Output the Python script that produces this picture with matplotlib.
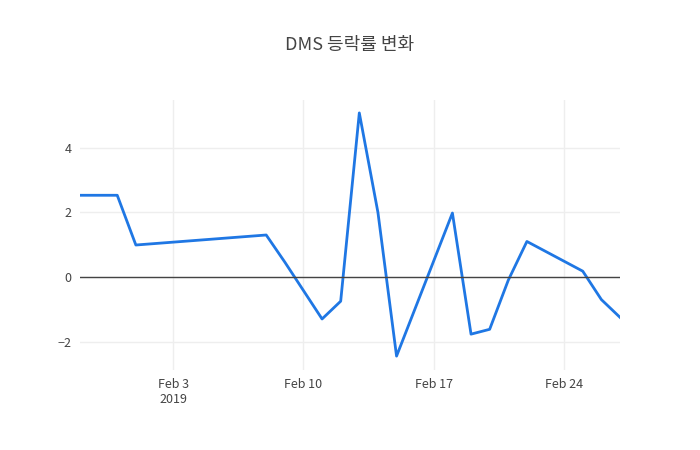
import matplotlib
matplotlib.use("Agg")
import matplotlib.pyplot as plt
import matplotlib.dates as mdates
import pandas as pd

dates = ["2019-01-29","2019-01-31","2019-02-01","2019-02-08","2019-02-09","2019-02-11",
         "2019-02-12","2019-02-13","2019-02-14","2019-02-15","2019-02-18","2019-02-19",
         "2019-02-20","2019-02-21","2019-02-22","2019-02-25","2019-02-26","2019-02-27"]
values = [2.53,2.53,0.99,1.3,0.46,-1.3,-0.75,5.08,2.0,-2.45,1.98,-1.77,-1.62,-0.1,1.1,0.18,-0.7,-1.25]
x = pd.to_datetime(dates)

plt.rcParams['font.family'] = ['Noto Sans CJK KR', 'DejaVu Sans']
fig = plt.figure(figsize=(7, 4.5), dpi=100)
ax = fig.add_axes([80/700, 1-370/450, 540/700, 270/450])
ax.plot(x, values, color='#1f77e4', lw=2)
ax.axhline(0, color='#444444', lw=1)
ax.set_xlim(x[0], x[-1])
ax.set_ylim(-2.88, 5.48)
ax.set_yticks([-2, 0, 2, 4])
ax.set_yticklabels(['−2', '0', '2', '4'])
ticks = pd.to_datetime(["2019-02-03","2019-02-10","2019-02-17","2019-02-24"])
ax.set_xticks(ticks)
ax.set_xticklabels(["Feb 3\n2019", "Feb 10", "Feb 17", "Feb 24"])
ax.grid(color='#eeeeee', lw=1)
for s in ax.spines.values():
    s.set_visible(False)
ax.tick_params(length=0, colors='#444444', labelsize=9, pad=6)
fig.text(0.5, 1-45/450, "DMS 등락률 변화", ha='center', va='center', fontsize=13, color='#444444')
fig.savefig("out.png")
